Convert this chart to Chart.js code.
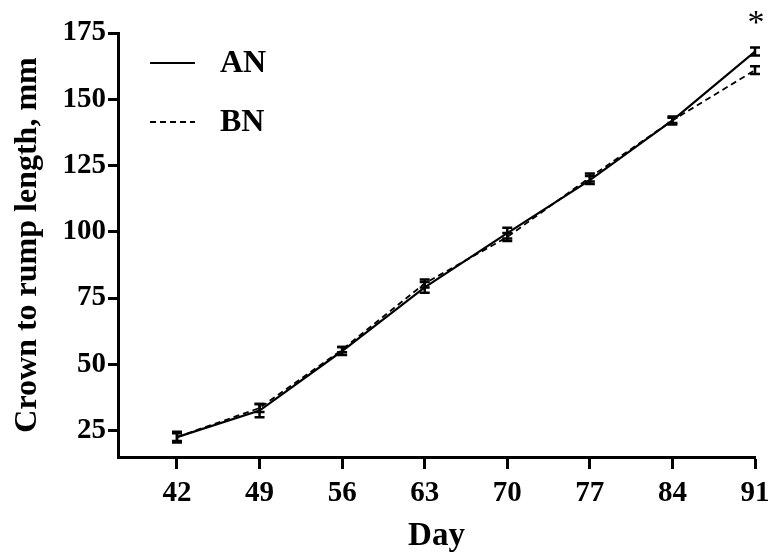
<!DOCTYPE html>
<html>
<head>
<meta charset="utf-8">
<script src="https://cdn.jsdelivr.net/npm/chart.js@4.4.1/dist/chart.umd.min.js"></script>
<style>
  html, body { margin: 0; padding: 0; background: #fff; }
  #wrap { width: 770px; height: 556px; }
</style>
</head>
<body>
<div id="wrap"><canvas id="crlChart" width="770" height="556"></canvas></div>
<script>
const days = [42, 49, 56, 63, 70, 77, 84, 91];
const anMean = [22.5, 32.5, 55, 79, 99.5, 119.5, 142, 168];
const anErr = [2, 2.5, 1.5, 2, 2, 1.5, 1.5, 1.5];
const bnMean = [22.5, 33.5, 55.5, 80.5, 98, 120.5, 142, 161];
const bnErr = [1.5, 1.5, 1, 1.5, 1.5, 1.5, 1, 1.5];
const yTicks = [25, 50, 75, 100, 125, 150, 175];

const serif = 'Liberation Serif';
const ctx = document.getElementById('crlChart').getContext('2d');

const toPoints = (ys) => days.map((d, i) => ({ x: d, y: ys[i] }));

// error bars, legend and significance mark
const extras = {
  id: 'extras',
  afterDatasetsDraw(chart) {
    const { ctx, scales: { x, y } } = chart;
    ctx.save();
    ctx.strokeStyle = '#000';
    ctx.lineWidth = 2.5;
    const bars = [[anMean, anErr], [bnMean, bnErr]];
    bars.forEach(([means, errs]) => {
      days.forEach((d, i) => {
        const px = x.getPixelForValue(d);
        const top = y.getPixelForValue(means[i] + errs[i]);
        const bot = y.getPixelForValue(means[i] - errs[i]);
        ctx.beginPath();
        ctx.moveTo(px, top); ctx.lineTo(px, bot);
        ctx.moveTo(px - 5, top); ctx.lineTo(px + 5, top);
        ctx.moveTo(px - 5, bot); ctx.lineTo(px + 5, bot);
        ctx.stroke();
      });
    });

    // legend
    const entries = [
      { label: 'AN', dash: [], y: 63 },
      { label: 'BN', dash: [6, 4], y: 122 }
    ];
    ctx.font = `bold 32px "${serif}"`;
    ctx.textBaseline = 'middle';
    ctx.fillStyle = '#000';
    ctx.lineWidth = 2;
    entries.forEach(e => {
      ctx.setLineDash(e.dash);
      ctx.beginPath();
      ctx.moveTo(150, e.y); ctx.lineTo(195, e.y);
      ctx.stroke();
      ctx.fillText(e.label, 220, e.y + 1);
    });
    ctx.setLineDash([]);

    // significance at day 91
    ctx.font = `34px "${serif}"`;
    ctx.textAlign = 'center';
    ctx.fillText('*', x.getPixelForValue(91) + 1, 24);
    ctx.restore();
  }
};

new Chart(ctx, {
  type: 'scatter',
  data: {
    datasets: [
      {
        label: 'AN',
        data: toPoints(anMean),
        showLine: true,
        borderColor: '#000',
        borderWidth: 2.2,
        pointRadius: 0,
        tension: 0
      },
      {
        label: 'BN',
        data: toPoints(bnMean),
        showLine: true,
        borderColor: '#000',
        borderWidth: 1.8,
        borderDash: [6, 4],
        pointRadius: 0,
        tension: 0
      }
    ]
  },
  options: {
    responsive: false,
    animation: false,
    layout: { padding: { top: 33, right: 15, left: 0, bottom: 0 } },
    plugins: {
      legend: { display: false },
      tooltip: { enabled: false }
    },
    scales: {
      x: {
        type: 'linear',
        min: 37,
        max: 91,
        afterBuildTicks: (scale) => { scale.ticks = days.map(v => ({ value: v })); },
        afterFit: (scale) => {
          scale.height = 99;
          // let the last label hang into the right margin
          scale.paddingLeft = 0;
          scale.paddingRight = 0;
        },
        border: { color: '#000', width: 3 },
        grid: { drawOnChartArea: false, color: '#000', tickColor: '#000', tickWidth: 3, tickLength: 12 },
        ticks: { color: '#000', font: { family: serif, weight: 'bold', size: 29 }, padding: 7, maxRotation: 0 },
        title: {
          display: true,
          text: 'Day',
          color: '#000',
          font: { family: serif, weight: 'bold', size: 33 },
          padding: { top: 0, bottom: 0 }
        }
      },
      y: {
        min: 15,
        max: 175,
        afterBuildTicks: (scale) => { scale.ticks = yTicks.map(v => ({ value: v })); },
        afterFit: (scale) => { scale.width = 118; },
        border: { color: '#000', width: 3 },
        grid: { drawOnChartArea: false, color: '#000', tickColor: '#000', tickWidth: 3, tickLength: 10 },
        ticks: { color: '#000', font: { family: serif, weight: 'bold', size: 29 }, padding: 2 },
        title: {
          display: true,
          text: 'Crown to rump length, mm',
          color: '#000',
          font: { family: serif, weight: 'bold', size: 32 },
          padding: { top: 9, bottom: 4 }
        }
      }
    }
  },
  plugins: [extras]
});
</script>
</body>
</html>
